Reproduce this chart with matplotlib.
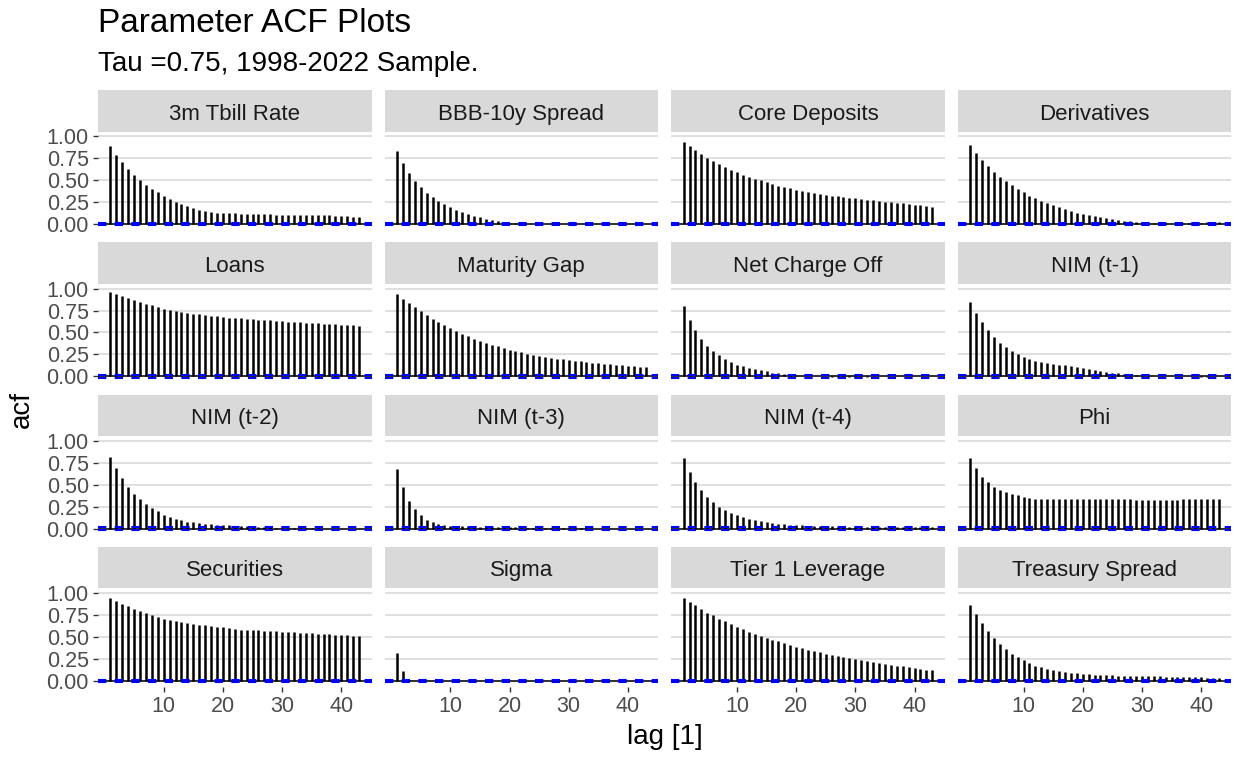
import numpy as np
import matplotlib
matplotlib.use('Agg')
import matplotlib.pyplot as plt

plt.rcParams['font.family'] = ['Liberation Sans', 'DejaVu Sans']

# acf values, lags 1..43
tbill = [0.886, 0.79, 0.707, 0.63, 0.563, 0.498, 0.445, 0.40, 0.36, 0.323,
         0.285, 0.255, 0.224, 0.20, 0.18, 0.16, 0.148, 0.137, 0.13, 0.125,
         0.12, 0.12, 0.118, 0.115, 0.115, 0.113, 0.11, 0.11, 0.108, 0.105,
         0.105, 0.103, 0.10, 0.10, 0.10, 0.10, 0.10, 0.098, 0.095, 0.093,
         0.09, 0.085, 0.08]
bbb = [0.83, 0.696, 0.58, 0.494, 0.418, 0.354, 0.308, 0.266, 0.228, 0.194,
       0.163, 0.137, 0.114, 0.091, 0.076, 0.061, 0.049, 0.034, 0.023, 0.011,
       0.006, 0.004, 0.002, 0.0, -0.002, -0.003, -0.004, -0.004, -0.005, -0.005,
       -0.005, -0.004, -0.004, -0.003, -0.003, -0.002, -0.002, -0.002, -0.001, -0.001,
       0.0, 0.0, 0.0]
core = [0.94, 0.886, 0.84, 0.795, 0.753, 0.715, 0.68, 0.646, 0.616, 0.589,
        0.563, 0.536, 0.517, 0.498, 0.479, 0.456, 0.437, 0.422, 0.407, 0.392,
        0.38, 0.369, 0.357, 0.346, 0.335, 0.323, 0.316, 0.308, 0.30, 0.293,
        0.285, 0.278, 0.27, 0.262, 0.255, 0.247, 0.243, 0.236, 0.228, 0.22,
        0.213, 0.205, 0.198]
deriv = [0.897, 0.81, 0.734, 0.658, 0.597, 0.536, 0.49, 0.441, 0.40, 0.36,
         0.323, 0.293, 0.262, 0.24, 0.217, 0.194, 0.171, 0.148, 0.13, 0.114,
         0.099, 0.087, 0.076, 0.065, 0.053, 0.046, 0.038, 0.03, 0.027, 0.019,
         0.015, 0.011, 0.008, 0.006, 0.005, 0.006, 0.008, 0.01, 0.012, 0.015,
         0.018, 0.02, 0.018]
loans = [0.962, 0.936, 0.913, 0.89, 0.868, 0.849, 0.826, 0.808, 0.792, 0.77,
         0.758, 0.747, 0.736, 0.725, 0.713, 0.706, 0.698, 0.691, 0.683, 0.675,
         0.668, 0.664, 0.66, 0.653, 0.649, 0.645, 0.642, 0.638, 0.63, 0.626,
         0.623, 0.619, 0.615, 0.611, 0.608, 0.604, 0.60, 0.596, 0.592, 0.589,
         0.585, 0.581, 0.577]
matgap = [0.944, 0.887, 0.838, 0.792, 0.743, 0.698, 0.656, 0.619, 0.581, 0.547,
          0.513, 0.483, 0.457, 0.43, 0.404, 0.381, 0.362, 0.343, 0.321, 0.30,
          0.287, 0.272, 0.257, 0.245, 0.23, 0.219, 0.208, 0.2, 0.192, 0.185,
          0.177, 0.17, 0.162, 0.155, 0.147, 0.14, 0.136, 0.132, 0.125, 0.121,
          0.113, 0.11, 0.102]
nco = [0.797, 0.645, 0.524, 0.426, 0.35, 0.29, 0.24, 0.198, 0.16, 0.133,
       0.114, 0.095, 0.083, 0.072, 0.057, 0.042, 0.034, 0.027, 0.019, 0.011,
       0.006, 0.003, 0.001, 0.0, -0.002, -0.003, -0.003, -0.004, -0.004, -0.004,
       -0.003, -0.003, -0.002, -0.002, -0.002, -0.001, -0.001, -0.001, 0.0, 0.0,
       0.0, 0.001, 0.0]
nim1 = [0.845, 0.72, 0.617, 0.523, 0.447, 0.383, 0.33, 0.288, 0.25, 0.22,
        0.193, 0.174, 0.159, 0.148, 0.14, 0.133, 0.125, 0.117, 0.106, 0.095,
        0.083, 0.072, 0.061, 0.049, 0.042, 0.034, 0.027, 0.023, 0.019, 0.015,
        0.011, 0.008, 0.005, 0.003, 0.001, 0.0, -0.001, -0.002, -0.002, -0.003,
        -0.003, -0.002, -0.002]
nim2 = [0.82, 0.69, 0.58, 0.48, 0.40, 0.34, 0.28, 0.24, 0.20, 0.16,
        0.13, 0.11, 0.095, 0.08, 0.07, 0.06, 0.055, 0.05, 0.045, 0.04,
        0.036, 0.032, 0.028, 0.025, 0.022, 0.019, 0.016, 0.013, 0.01, 0.008,
        0.006, 0.005, 0.004, 0.003, 0.002, 0.002, 0.001, 0.001, 0.0, 0.0,
        0.0, 0.0, 0.0]
nim3 = [0.68, 0.47, 0.32, 0.22, 0.15, 0.10, 0.07, 0.05, 0.04, 0.035,
        0.03, 0.027, 0.025, 0.023, 0.021, 0.02, 0.019, 0.018, 0.016, 0.015,
        0.013, 0.012, 0.01, 0.009, 0.008, 0.007, 0.006, 0.005, 0.004, 0.003,
        0.003, 0.002, 0.002, 0.001, 0.001, 0.0, 0.0, 0.0, 0.0, 0.0,
        0.0, 0.0, 0.0]
nim4 = [0.80, 0.65, 0.53, 0.44, 0.36, 0.30, 0.25, 0.21, 0.18, 0.15,
        0.13, 0.11, 0.095, 0.085, 0.075, 0.065, 0.055, 0.05, 0.045, 0.04,
        0.037, 0.034, 0.031, 0.028, 0.026, 0.024, 0.022, 0.02, 0.019, 0.018,
        0.017, 0.016, 0.015, 0.015, 0.014, 0.014, 0.014, 0.013, 0.013, 0.013,
        0.014, 0.014, 0.015]
phi = [0.80, 0.686, 0.594, 0.526, 0.476, 0.442, 0.42, 0.397, 0.378, 0.359,
       0.347, 0.34, 0.34, 0.338, 0.338, 0.337, 0.337, 0.336, 0.336, 0.336,
       0.335, 0.335, 0.334, 0.334, 0.333, 0.333, 0.332, 0.332, 0.331, 0.331,
       0.331, 0.330, 0.330, 0.330, 0.331, 0.331, 0.332, 0.332, 0.333, 0.333,
       0.334, 0.334, 0.335]
secur = [0.947, 0.914, 0.88, 0.85, 0.823, 0.797, 0.774, 0.748, 0.73, 0.707,
         0.692, 0.68, 0.669, 0.658, 0.647, 0.639, 0.632, 0.624, 0.617, 0.609,
         0.602, 0.594, 0.586, 0.583, 0.579, 0.575, 0.571, 0.568, 0.564, 0.56,
         0.556, 0.553, 0.549, 0.545, 0.541, 0.538, 0.534, 0.53, 0.526, 0.523,
         0.519, 0.515, 0.511]
sigma = [0.323, 0.109, 0.01, 0.002, 0.0, -0.002, -0.003, -0.002, -0.002, -0.001,
         0.0, 0.001, 0.0, -0.001, 0.0, 0.001, 0.0, 0.0, -0.001, 0.0,
         0.001, 0.0, 0.0, -0.001, 0.0, 0.0, 0.001, 0.0, 0.0, -0.001,
         0.0, 0.0, 0.001, 0.0, -0.001, 0.0, 0.0, 0.001, 0.0, 0.0,
         -0.001, 0.0, 0.0]
tier1 = [0.94, 0.90, 0.86, 0.82, 0.78, 0.75, 0.71, 0.68, 0.65, 0.62,
         0.59, 0.56, 0.54, 0.51, 0.49, 0.47, 0.45, 0.43, 0.41, 0.39,
         0.37, 0.355, 0.34, 0.325, 0.31, 0.295, 0.28, 0.27, 0.26, 0.245,
         0.235, 0.225, 0.215, 0.205, 0.195, 0.185, 0.175, 0.165, 0.155, 0.145,
         0.135, 0.125, 0.12]
treas = [0.87, 0.76, 0.66, 0.57, 0.49, 0.42, 0.36, 0.31, 0.27, 0.235,
         0.20, 0.175, 0.155, 0.135, 0.12, 0.11, 0.10, 0.09, 0.085, 0.08,
         0.075, 0.07, 0.068, 0.065, 0.062, 0.06, 0.058, 0.056, 0.055, 0.054,
         0.053, 0.052, 0.051, 0.05, 0.049, 0.048, 0.047, 0.045, 0.043, 0.04,
         0.038, 0.036, 0.035]

names = ['3m Tbill Rate', 'BBB-10y Spread', 'Core Deposits', 'Derivatives',
         'Loans', 'Maturity Gap', 'Net Charge Off', 'NIM (t-1)',
         'NIM (t-2)', 'NIM (t-3)', 'NIM (t-4)', 'Phi',
         'Securities', 'Sigma', 'Tier 1 Leverage', 'Treasury Spread']
series = [tbill, bbb, core, deriv, loans, matgap, nco, nim1,
          nim2, nim3, nim4, phi, secur, sigma, tier1, treas]
ci = 0.015

W, H = 1233, 757
fig = plt.figure(figsize=(W / 100, H / 100), dpi=100)

def box(x, y, w, h):
    # pixel box (top-left origin) -> figure fraction
    return [x / W, 1 - (y + h) / H, w / W, h / H]

pw, ph, sh = 273.5, 98.8, 41.5
for i, (name, vals) in enumerate(zip(names, series)):
    r, c = divmod(i, 4)
    x0 = 98 + c * 286.6
    y0 = 90 + r * 152.3

    sax = fig.add_axes(box(x0, y0, pw, sh))
    sax.set_facecolor('#D9D9D9')
    sax.set_xticks([]); sax.set_yticks([])
    for sp in sax.spines.values():
        sp.set_visible(False)
    sax.text(0.5, 0.48, name, ha='center', va='center_baseline', fontsize=16,
             color='#1A1A1A', transform=sax.transAxes)

    ax = fig.add_axes(box(x0, y0 + sh, pw, ph))
    lags = np.arange(1, len(vals) + 1)
    ax.vlines(lags, 0, vals, color='black', lw=1.8, zorder=3)
    ax.axhline(0, color='black', lw=1.1, zorder=3)
    for b in (ci, -ci):
        ax.axhline(b, color='#0000FF', lw=1.5, ls=(0, (4, 4)), zorder=4)
    ax.set_xlim(-1.1, 45.1)
    ax.set_ylim(-0.072, 1.055)
    ax.set_yticks([0, 0.25, 0.5, 0.75, 1.0])
    ax.set_xticks([10, 20, 30, 40])
    ax.grid(axis='y', color='#D9D9D9', lw=1.2, zorder=0)
    ax.set_axisbelow(True)
    for sp in ax.spines.values():
        sp.set_visible(False)
    ax.tick_params(colors='#333333', labelcolor='#4D4D4D', labelsize=15.5,
                   length=3.5, width=1.0, pad=3)
    if c == 0:
        ax.set_yticklabels(['0.00', '0.25', '0.50', '0.75', '1.00'])
    else:
        ax.tick_params(axis='y', length=0, labelleft=False)
    if r != 3:
        ax.tick_params(axis='x', length=0, labelbottom=False)

fig.text(98 / W, 1 - 32 / H, 'Parameter ACF Plots', fontsize=24,
         ha='left', va='baseline', color='black')
fig.text(98 / W, 1 - 71 / H, 'Tau =0.75, 1998-2022 Sample.', fontsize=20,
         ha='left', va='baseline', color='black')
fig.text(664.5 / W, 1 - 737 / H, 'lag [1]', fontsize=20, ha='center',
         va='center', color='black')
fig.text(22 / W, 1 - 409 / H, 'acf', fontsize=20, ha='center', va='center',
         rotation=90, color='black')

fig.savefig('out.png', dpi=100)
